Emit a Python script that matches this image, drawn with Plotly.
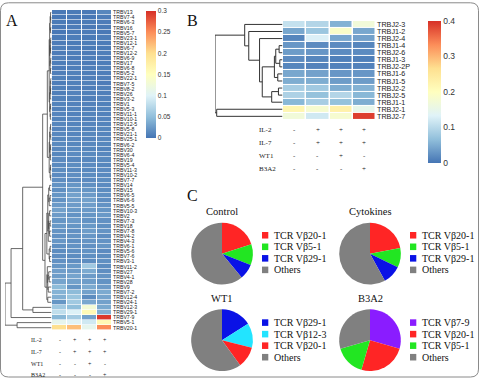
import numpy as np
import plotly.graph_objects as go

# ---------------- data ----------------
columns = ["Control", "Cytokines", "WT1", "B3A2"]

trbv_genes = ["TRBV13", "TRBV7-4", "TRBV6-3", "TRBV16", "TRBV5-7", "TRBV23-1", "TRBV12-1",
              "TRBV6-7", "TRBV12-2", "TRBV6-9", "TRBV17", "TRBV6-8", "TRBV5-2", "TRBV22-1",
              "TRBV7-5", "TRBV8-2", "TRBV26", "TRBV3-2", "TRBV1", "TRBV5-3", "TRBV11-1",
              "TRBV10-1", "TRBV12-5", "TRBV5-8", "TRBV21-1", "TRBV25-1", "TRBV6-2", "TRBV30",
              "TRBV6-4", "TRBV19", "TRBV5-4", "TRBV11-3", "TRBV10-2", "TRBV7-7", "TRBV14",
              "TRBV15", "TRBV6-5", "TRBV6-6", "TRBV5-5", "TRBV10-3", "TRBV2", "TRBV7-3",
              "TRBV18", "TRBV7-8", "TRBV4-2", "TRBV4-3", "TRBV6-1", "TRBV5-6", "TRBV7-6",
              "TRBV3-1", "TRBV11-2", "TRBV27", "TRBV4-1", "TRBV28", "TRBV9", "TRBV7-2",
              "TRBV12-4", "TRBV24-1", "TRBV12-3", "TRBV29-1", "TRBV7-9", "TRBV5-1", "TRBV20-1"]

trbv_control = [0.003, 0.002, 0.004, 0.003, 0.002, 0.004, 0.005, 0.006, 0.005, 0.007, 0.006,
                0.005, 0.007, 0.008, 0.006, 0.008, 0.007, 0.009, 0.010, 0.009, 0.011, 0.010,
                0.012, 0.011, 0.013, 0.012, 0.014, 0.013, 0.012, 0.015, 0.014, 0.016, 0.015,
                0.017, 0.020, 0.018, 0.022, 0.020, 0.025, 0.030, 0.026, 0.022, 0.024, 0.021,
                0.019, 0.023, 0.018, 0.016, 0.017, 0.019, 0.022, 0.028, 0.027, 0.032, 0.048,
                0.042, 0.040, 0.022, 0.060, 0.080, 0.045, 0.110, 0.200]
trbv_cytokines = [0.004, 0.003, 0.003, 0.005, 0.004, 0.006, 0.004, 0.005, 0.006, 0.005, 0.007,
                  0.006, 0.008, 0.006, 0.008, 0.007, 0.009, 0.008, 0.009, 0.010, 0.009, 0.011,
                  0.010, 0.012, 0.011, 0.013, 0.012, 0.014, 0.015, 0.013, 0.016, 0.014, 0.017,
                  0.015, 0.022, 0.024, 0.030, 0.028, 0.026, 0.024, 0.020, 0.025, 0.022, 0.019,
                  0.021, 0.018, 0.020, 0.018, 0.016, 0.017, 0.024, 0.026, 0.032, 0.030, 0.022,
                  0.048, 0.056, 0.060, 0.050, 0.098, 0.062, 0.102, 0.220]
trbv_wt1 = [0.003, 0.002, 0.004, 0.003, 0.005, 0.004, 0.006, 0.004, 0.005, 0.006, 0.005,
            0.007, 0.006, 0.007, 0.008, 0.006, 0.008, 0.007, 0.009, 0.008, 0.010, 0.009,
            0.011, 0.010, 0.012, 0.011, 0.013, 0.012, 0.014, 0.013, 0.015, 0.014, 0.016,
            0.015, 0.018, 0.022, 0.026, 0.030, 0.028, 0.025, 0.022, 0.020, 0.024, 0.027,
            0.023, 0.021, 0.019, 0.020, 0.018, 0.016, 0.060, 0.036, 0.026, 0.027, 0.036,
            0.030, 0.016, 0.034, 0.130, 0.160, 0.030, 0.090, 0.110]
trbv_b3a2 = [0.012, 0.006, 0.005, 0.004, 0.003, 0.006, 0.005, 0.004, 0.007, 0.005, 0.006,
             0.008, 0.006, 0.007, 0.005, 0.008, 0.007, 0.009, 0.008, 0.010, 0.009, 0.011,
             0.010, 0.012, 0.011, 0.013, 0.012, 0.010, 0.013, 0.014, 0.012, 0.015, 0.014,
             0.016, 0.015, 0.016, 0.018, 0.017, 0.020, 0.022, 0.024, 0.019, 0.018, 0.021,
             0.017, 0.020, 0.022, 0.015, 0.016, 0.018, 0.016, 0.017, 0.021, 0.020, 0.026,
             0.036, 0.032, 0.030, 0.035, 0.040, 0.295, 0.160, 0.250]
# dendrogram: joining height between each pair of neighbouring rows (fraction of root)
trbv_join_heights = [0.02, 0.015, 0.03, 0.02, 0.04, 0.015, 0.025, 0.02, 0.035, 0.015, 0.03,
                     0.02, 0.05, 0.015, 0.025, 0.02, 0.03, 0.04, 0.02, 0.03, 0.025, 0.09,
                     0.02, 0.03, 0.015, 0.04, 0.02, 0.03, 0.025, 0.05, 0.02, 0.03, 0.015,
                     0.19,
                     0.04, 0.06, 0.03, 0.05, 0.08, 0.04, 0.06, 0.03, 0.05, 0.04, 0.07,
                     0.10, 0.03, 0.05, 0.04, 0.14,
                     0.09, 0.06, 0.05, 0.08, 0.07, 0.10, 0.08,
                     0.62, 0.40, 0.87, 1.00, 0.74]

trbj_genes = ["TRBJ2-3", "TRBJ1-2", "TRBJ2-4", "TRBJ1-4", "TRBJ2-6", "TRBJ1-3", "TRBJ2-2P",
              "TRBJ1-6", "TRBJ1-5", "TRBJ2-2", "TRBJ2-5", "TRBJ1-1", "TRBJ2-1", "TRBJ2-7"]
trbj_control = [0.110, 0.045, 0.015, 0.030, 0.035, 0.020, 0.015, 0.045, 0.050, 0.085, 0.090, 0.060, 0.220, 0.170]
trbj_cytokines = [0.095, 0.075, 0.130, 0.020, 0.030, 0.015, 0.012, 0.040, 0.050, 0.080, 0.070, 0.085, 0.180, 0.120]
trbj_wt1 = [0.055, 0.190, 0.045, 0.020, 0.020, 0.010, 0.012, 0.030, 0.035, 0.050, 0.095, 0.070, 0.230, 0.180]
trbj_b3a2 = [0.170, 0.045, 0.040, 0.015, 0.020, 0.010, 0.012, 0.030, 0.035, 0.055, 0.060, 0.050, 0.150, 0.390]
trbj_join_heights = [0.56, 0.50, 0.34, 0.05, 0.10, 0.04, 0.12, 0.07, 0.30, 0.06, 0.16, 1.00, 0.975]

treatments = ["IL-2", "IL-7", "WT1", "B3A2"]
treatment_signs = [["-", "+", "+", "+"],
                   ["-", "+", "+", "+"],
                   ["-", "-", "+", "-"],
                   ["-", "-", "-", "+"]]

pie_titles = ["Control", "Cytokines", "WT1", "B3A2"]
pie_genes = [["TRBV20-1", "TRBV5-1", "TRBV29-1"],
             ["TRBV20-1", "TRBV5-1", "TRBV29-1"],
             ["TRBV29-1", "TRBV12-3", "TRBV20-1"],
             ["TRBV7-9", "TRBV20-1", "TRBV5-1"]]
gene_colors = {"TRBV20-1": "#FF2525", "TRBV5-1": "#22E622", "TRBV29-1": "#0A12E6",
               "TRBV12-3": "#22E4FF", "TRBV7-9": "#8A1CFF", "Others": "#808080"}

# ---------------- helpers ----------------
W, H = 481, 379
def px(x): return x / W
def py(y): return 1 - y / H

pheat_scale = [[i / 6, c] for i, c in enumerate(
    ["#4575B4", "#91BFDB", "#E0F3F8", "#FFFFBF", "#FEE090", "#FC8D59", "#D73027"])]

def dendro_lines(heights):
    xs, ys = [], []
    def build(lo, hi):
        if lo == hi:
            return 0.0, float(lo)
        k = lo + int(np.argmax(heights[lo:hi]))
        h = heights[k]
        lh, ly = build(lo, k)
        rh, ry = build(k + 1, hi)
        xs.extend([lh, h, None, rh, h, None, h, h, None])
        ys.extend([ly, ly, None, ry, ry, None, ly, ry, None])
        return h, (ly + ry) / 2
    build(0, len(heights))
    return xs, ys

def note(text, x, y, size, family="Liberation Serif", xanchor="center", xref="paper", color="#111"):
    return dict(text=text, x=x, y=y, xref=xref, yref="paper", xanchor=xanchor, yanchor="middle",
                showarrow=False, font=dict(family=family, size=size, color=color))

fig = go.Figure()

# ---------------- panel A heatmap ----------------
zA = np.array([trbv_control, trbv_cytokines, trbv_wt1, trbv_b3a2]).T
nA = len(trbv_genes)
fig.add_trace(go.Heatmap(
    z=zA, x=list(range(4)), y=list(range(nA)), colorscale=pheat_scale, zmin=0, zmax=0.3,
    xgap=1, ygap=0.6, xaxis="x", yaxis="y", hoverinfo="skip",
    colorbar=dict(x=px(146), xanchor="left", y=py(10), yanchor="top", len=127, lenmode="pixels",
                  thickness=10, outlinewidth=0, ticks="", xpad=0, ypad=0,
                  tickvals=[0, 0.05, 0.1, 0.15, 0.2, 0.25, 0.3],
                  ticktext=["0", "0.05", "0.1", "0.15", "0.2", "0.25", "0.3"],
                  tickfont=dict(family="Liberation Sans", size=6.5, color="#333"))))
dx, dy = dendro_lines(trbv_join_heights)
fig.add_trace(go.Scatter(x=dx, y=dy, mode="lines", xaxis="x2", yaxis="y2",
                         line=dict(color="#444", width=0.8), hoverinfo="skip", showlegend=False))

# ---------------- panel B heatmap ----------------
zB = np.array([trbj_control, trbj_cytokines, trbj_wt1, trbj_b3a2]).T
nB = len(trbj_genes)
fig.add_trace(go.Heatmap(
    z=zB, x=list(range(4)), y=list(range(nB)), colorscale=pheat_scale, zmin=0, zmax=0.4,
    xgap=1.5, ygap=1, xaxis="x3", yaxis="y3", hoverinfo="skip",
    colorbar=dict(x=px(428), xanchor="left", y=py(20), yanchor="top", len=142, lenmode="pixels",
                  thickness=13, outlinewidth=0, ticks="", xpad=0, ypad=0,
                  tickvals=[0, 0.1, 0.2, 0.3, 0.4], ticktext=["0", "0.1", "0.2", "0.3", "0.4"],
                  tickfont=dict(family="Liberation Sans", size=8.5, color="#333"))))
dx, dy = dendro_lines(trbj_join_heights)
fig.add_trace(go.Scatter(x=dx, y=dy, mode="lines", xaxis="x4", yaxis="y4",
                         line=dict(color="#333", width=1), hoverinfo="skip", showlegend=False))

# ---------------- pies ----------------
pie_centers = [(222, 254), (370, 254), (222, 341), (370, 341)]
legend_x = [262, 410, 262, 410]
legend_y0 = [235.5, 235.5, 323.3, 323.3]
R = 31
shapes = []
annotations = []
col_index = {c: i for i, c in enumerate(columns)}
for k, title in enumerate(pie_titles):
    ci = col_index[title]
    vals = [zA[trbv_genes.index(g), ci] for g in pie_genes[k]]
    labels = ["TCR V\u03b2" + g[4:] for g in pie_genes[k]] + ["Others"]
    vals = vals + [1 - sum(vals)]
    colors = [gene_colors[g] for g in pie_genes[k]] + [gene_colors["Others"]]
    cx, cy = pie_centers[k]
    fig.add_trace(go.Pie(values=vals, labels=labels, marker=dict(colors=colors, line=dict(width=0)),
                         sort=False, direction="clockwise", rotation=0, textinfo="none",
                         hoverinfo="skip", showlegend=False,
                         domain=dict(x=[px(cx - R), px(cx + R)], y=[py(cy + R), py(cy - R)])))
    annotations.append(note(title, px(cx), py(cy - R - 11), 10.5))
    for j, (lab, col) in enumerate(zip(labels, colors)):
        yy = legend_y0[k] + j * 11.6
        lx = legend_x[k]
        shapes.append(dict(type="rect", xref="paper", yref="paper", x0=px(lx), x1=px(lx + 6.3),
                           y0=py(yy + 3.3), y1=py(yy - 3.3), fillcolor=col, line=dict(width=0)))
        annotations.append(note(lab, px(lx + 9.5), py(yy), 10, xanchor="left"))

# ---------------- treatment table ----------------
rowsA = [341, 353.3, 365, 376]
rowsB = [130, 142.7, 156, 169]
for t, name in enumerate(treatments):
    annotations.append(note(name, px(29), py(rowsA[t]), 6, xanchor="left", color="#222"))
    annotations.append(note(name, px(257), py(rowsB[t]), 7, xanchor="left", color="#222"))
    for c in range(4):
        annotations.append(note(treatment_signs[t][c], c, py(rowsA[t]), 6, xref="x", color="#222"))
        annotations.append(note(treatment_signs[t][c], c, py(rowsB[t]), 7, xref="x3", color="#222"))

for letter, (lx, ly) in zip("ABC", [(12, 20), (192, 20), (192, 196)]):
    annotations.append(note(letter, px(lx), py(ly), 16))

# outer rounded frame (drawn on a pixel-unit helper axis)
r = 8
x0, x1, y0, y1 = 0.5, 478.5, 1.8, 378
path = (f"M {x0+r},{y0} L {x1-r},{y0} Q {x1},{y0} {x1},{y0+r} L {x1},{y1-r} Q {x1},{y1} {x1-r},{y1} "
        f"L {x0+r},{y1} Q {x0},{y1} {x0},{y1-r} L {x0},{y0+r} Q {x0},{y0} {x0+r},{y0} Z")
shapes.append(dict(type="path", path=path, xref="x5", yref="y5", line=dict(color="#8a8a8a", width=1)))

hidden = dict(showgrid=False, zeroline=False, showticklabels=False, ticks="", showline=False)
fig.update_layout(
    width=W, height=H, margin=dict(l=0, r=0, t=0, b=0), paper_bgcolor="white", plot_bgcolor="rgba(0,0,0,0)",
    showlegend=False,
    xaxis=dict(domain=[px(52), px(112)], range=[-0.5, 3.5], **hidden),
    yaxis=dict(domain=[py(331), py(9)], range=[nA - 0.5, -0.5], side="right", tickvals=list(range(nA)),
               ticktext=trbv_genes, showticklabels=True, ticks="", showgrid=False, zeroline=False,
               tickfont=dict(family="Liberation Sans", size=5.2, color="#222")),
    xaxis2=dict(domain=[px(5), px(51.5)], range=[max(trbv_join_heights), 0], anchor="y2", **hidden),
    yaxis2=dict(domain=[py(331), py(9)], range=[nA - 0.5, -0.5], anchor="x2", **hidden),
    xaxis3=dict(domain=[px(283), px(376)], range=[-0.5, 3.5], anchor="y3", **hidden),
    yaxis3=dict(domain=[py(119.5), py(20)], range=[nB - 0.5, -0.5], anchor="x3", side="right",
                tickvals=list(range(nB)), ticktext=trbj_genes, showticklabels=True, ticks="",
                showgrid=False, zeroline=False,
                tickfont=dict(family="Liberation Sans", size=7.2, color="#222")),
    xaxis4=dict(domain=[px(215), px(282.5)], range=[max(trbj_join_heights), 0], anchor="y4", **hidden),
    yaxis4=dict(domain=[py(119.5), py(20)], range=[nB - 0.5, -0.5], anchor="x4", **hidden),
    xaxis5=dict(domain=[0, 1], range=[0, W], anchor="y5", **hidden),
    yaxis5=dict(domain=[0, 1], range=[H, 0], anchor="x5", **hidden),
    shapes=shapes, annotations=annotations,
)
fig.write_html("out.html")
